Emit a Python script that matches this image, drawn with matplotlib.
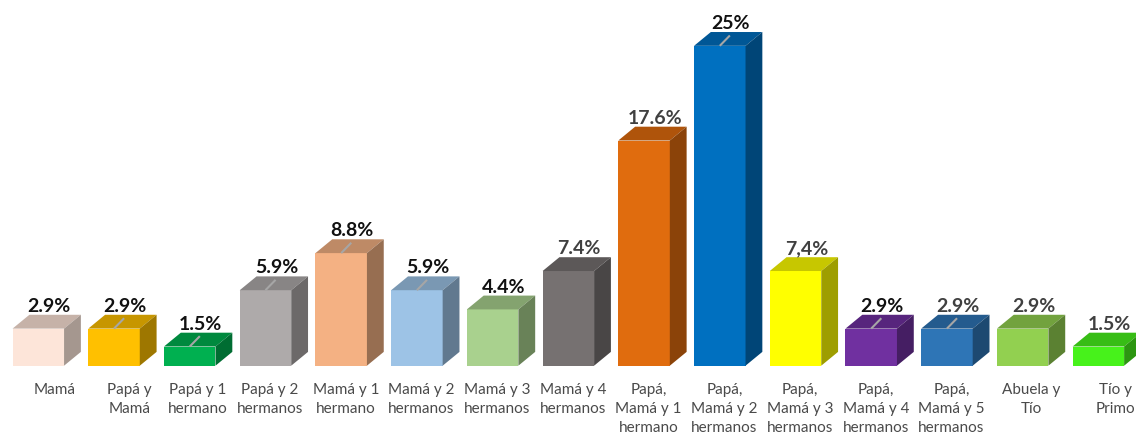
import numpy as np
import matplotlib.pyplot as plt
from matplotlib.colors import to_rgb
from matplotlib.patches import Polygon

categories = ['Mamá', 'Papá y\nMamá', 'Papá y 1\nhermano', 'Papá y 2\nhermanos',
              'Mamá y 1\nhermano', 'Mamá y 2\nhermanos', 'Mamá y 3\nhermanos',
              'Mamá y 4\nhermanos', 'Papá,\nMamá y 1\nhermano', 'Papá,\nMamá y 2\nhermanos',
              'Papá,\nMamá y 3\nhermanos', 'Papá,\nMamá y 4\nhermanos',
              'Papá,\nMamá y 5\nhermanos', 'Abuela y\nTío', 'Tío y\nPrimo']
values = [2.9, 2.9, 1.5, 5.9, 8.8, 5.9, 4.4, 7.4, 17.6, 25.0, 7.4, 2.9, 2.9, 2.9, 1.5]
value_labels = ['2.9%', '2.9%', '1.5%', '5.9%', '8.8%', '5.9%', '4.4%', '7.4%',
                '17.6%', '25%', '7,4%', '2.9%', '2.9%', '2.9%', '1.5%']
label_colors = ['#111111', '#111111', '#111111', '#111111', '#111111', '#111111',
                '#111111', '#404040', '#404040', '#111111', '#404040', '#111111',
                '#404040', '#404040', '#404040']
bar_colors = ['#FDE5D9', '#FFC000', '#00B050', '#AEAAAA', '#F4B183', '#9DC3E6',
              '#A9D18E', '#767171', '#E06C0E', '#0070C0', '#FFFF00', '#7030A0',
              '#2E75B6', '#92D050', '#47F21B']
has_leader = [False, True, True, True, True, True, False, False, False, True,
              False, True, True, False, False]


def shade(color, f):
    return tuple(c * f for c in to_rgb(color))


W, H = 1140, 439
fig = plt.figure(figsize=(W / 100, H / 100), dpi=100)
ax = fig.add_axes([0.0004, 0.1647, 0.9963, 0.835])
ax.set_xlim(-0.5, 14.5)
ax.set_ylim(0, 28.65)
ax.axis('off')

bw = 0.68     # front width
dx = 0.222    # depth offset (x units)
dy = 1.08     # depth offset (y units)

for i, (v, col) in enumerate(zip(values, bar_colors)):
    x0, x1 = i - bw / 2, i + bw / 2
    front = Polygon([(x0, 0), (x1, 0), (x1, v), (x0, v)], closed=True,
                    fc=col, ec='none')
    top = Polygon([(x0, v), (x1, v), (x1 + dx, v + dy), (x0 + dx, v + dy)],
                  closed=True, fc=shade(col, 0.78), ec='none')
    side = Polygon([(x1, 0), (x1 + dx, dy), (x1 + dx, v + dy), (x1, v)],
                   closed=True, fc=shade(col, 0.62), ec='none')
    if i == 0:
        top.set_facecolor('#C6B2A8')
        side.set_facecolor('#A5978F')
    for p in (front, top, side):
        ax.add_patch(p)
    if has_leader[i]:
        ax.plot([i, i + 0.6 * dx], [v, v + 0.75 * dy], color='#A6A6A6',
                lw=1.5, solid_capstyle='butt', zorder=3)
    ax.annotate(value_labels[i], xy=(i + 0.65 * dx, v + dy), xytext=(0, 4),
                textcoords='offset pixels', ha='center', va='baseline',
                fontsize=14, fontweight='bold', family='Lato',
                color=label_colors[i])

texts = []
for i, cat in enumerate(categories):
    t = ax.annotate(cat, xy=(i, 0), xytext=(0, -16), textcoords='offset pixels',
                    ha='center', va='top', fontsize=11, family='Lato',
                    color='#4A4A4A', linespacing=1.45)
    texts.append(t)

# shift labels right like the original, but keep them inside their slot
fig.canvas.draw()
px_per_unit = ax.transData.transform((1, 0))[0] - ax.transData.transform((0, 0))[0]
for i, t in enumerate(texts):
    w = t.get_window_extent().width / px_per_unit
    cx = min(i + dx, i + 0.5 - w / 2)
    t.xy = (cx, 0)

fig.savefig('out.png', dpi=100)
